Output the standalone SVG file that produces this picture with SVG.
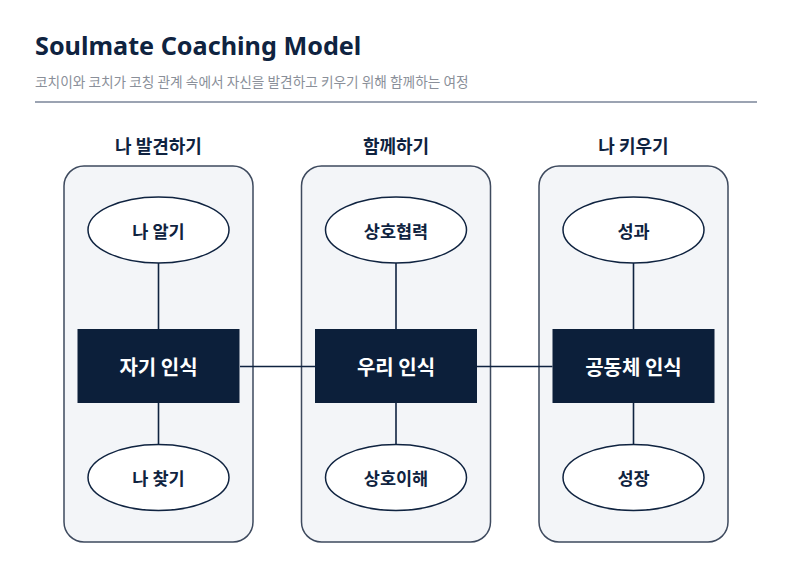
<svg xmlns="http://www.w3.org/2000/svg" width="804" height="563" viewBox="0 0 804 563">
<style>
.title{font-family:"Noto Sans","Noto Sans CJK KR",sans-serif;font-weight:700;font-size:25.2px;fill:#0f2340}
.sub{font-family:"Noto Sans CJK KR","Noto Sans",sans-serif;font-size:13.7px;fill:#8a8f99}
.col{font-family:"Noto Sans CJK KR",sans-serif;font-weight:700;font-size:18px;fill:#0f2340;text-anchor:middle}
.container{fill:#f3f5f8;stroke:#3e4a5e;stroke-width:1.5}
.ell{fill:#ffffff;stroke:#0f2340;stroke-width:1.5}
.ellt{font-family:"Noto Sans CJK KR",sans-serif;font-weight:700;font-size:17.5px;fill:#0f2340;text-anchor:middle;dominant-baseline:central}
.box{fill:#0c1f3a}
.boxt{font-family:"Noto Sans CJK KR",sans-serif;font-weight:700;font-size:20px;fill:#ffffff;text-anchor:middle;dominant-baseline:central}
.conn{stroke:#0f2340;stroke-width:1.6;fill:none}
</style>
<rect width="804" height="563" fill="#ffffff"/>
<text class="title" x="35" y="55">Soulmate Coaching Model</text>
<text class="sub" x="35" y="87">코치이와 코치가 코칭 관계 속에서 자신을 발견하고 키우기 위해 함께하는 여정</text>
<line x1="35" y1="102" x2="757" y2="102" stroke="#7a8499" stroke-width="1.3"/>

<g id="col1">
<text class="col" x="158.5" y="153">나 발견하기</text>
<rect class="container" x="64" y="166" width="189" height="376" rx="20"/>
</g>
<g id="col2">
<text class="col" x="396" y="153">함께하기</text>
<rect class="container" x="301.5" y="166" width="189" height="376" rx="20"/>
</g>
<g id="col3">
<text class="col" x="633.5" y="153">나 키우기</text>
<rect class="container" x="539" y="166" width="189" height="376" rx="20"/>
</g>

<g id="connectors">
<line class="conn" x1="158.5" y1="263" x2="158.5" y2="329"/>
<line class="conn" x1="158.5" y1="403" x2="158.5" y2="444"/>
<line class="conn" x1="396" y1="263" x2="396" y2="329"/>
<line class="conn" x1="396" y1="403" x2="396" y2="444"/>
<line class="conn" x1="633.5" y1="263" x2="633.5" y2="329"/>
<line class="conn" x1="633.5" y1="403" x2="633.5" y2="444"/>
<line class="conn" x1="240" y1="366.5" x2="315" y2="366.5"/>
<line class="conn" x1="477" y1="366.5" x2="552.5" y2="366.5"/>
</g>

<g id="n-know">
<ellipse class="ell" cx="158.5" cy="230" rx="70.5" ry="33"/>
<text class="ellt" x="158.5" y="230">나 알기</text>
</g>
<g id="n-self">
<rect class="box" x="77.5" y="329" width="162" height="74"/>
<text class="boxt" x="158.5" y="366">자기 인식</text>
</g>
<g id="n-find">
<ellipse class="ell" cx="158.5" cy="477.5" rx="70.5" ry="33"/>
<text class="ellt" x="158.5" y="477.5">나 찾기</text>
</g>

<g id="n-coop">
<ellipse class="ell" cx="396" cy="230" rx="70.5" ry="33"/>
<text class="ellt" x="396" y="230">상호협력</text>
</g>
<g id="n-we">
<rect class="box" x="315" y="329" width="162" height="74"/>
<text class="boxt" x="396" y="366">우리 인식</text>
</g>
<g id="n-understand">
<ellipse class="ell" cx="396" cy="477.5" rx="70.5" ry="33"/>
<text class="ellt" x="396" y="477.5">상호이해</text>
</g>

<g id="n-result">
<ellipse class="ell" cx="633.5" cy="230" rx="70.5" ry="33"/>
<text class="ellt" x="633.5" y="230">성과</text>
</g>
<g id="n-community">
<rect class="box" x="552.5" y="329" width="162" height="74"/>
<text class="boxt" x="633.5" y="366">공동체 인식</text>
</g>
<g id="n-growth">
<ellipse class="ell" cx="633.5" cy="477.5" rx="70.5" ry="33"/>
<text class="ellt" x="633.5" y="477.5">성장</text>
</g>
</svg>
